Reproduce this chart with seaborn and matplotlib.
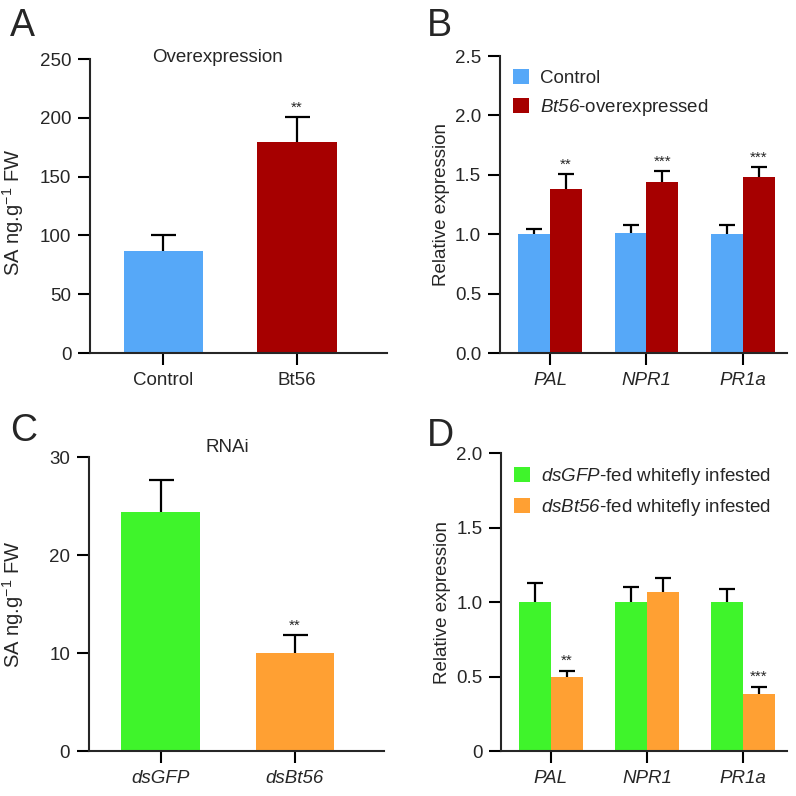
import pandas as pd
import matplotlib
matplotlib.use("Agg")
import matplotlib.pyplot as plt
import seaborn as sns

# A: SA content, overexpression
oe_groups = ["Control", "Bt56"]
oe_sa = [87.0, 179.5]
oe_sa_err = [13.0, 21.0]
oe_sig = ["", "**"]

# B: marker genes, overexpression
genes = ["PAL", "NPR1", "PR1a"]
b_ctrl = [1.00, 1.01, 1.00]
b_ctrl_err = [0.045, 0.065, 0.08]
b_oe = [1.38, 1.44, 1.48]
b_oe_err = [0.125, 0.09, 0.085]
b_sig_ctrl = ["", "", ""]
b_sig_oe = ["**", "***", "***"]

# C: SA content, RNAi
rnai_groups = ["dsGFP", "dsBt56"]
rnai_sa = [24.4, 10.0]
rnai_sa_err = [3.3, 1.8]
rnai_sig = ["", "**"]

# D: marker genes, RNAi
d_gfp = [1.00, 1.00, 1.00]
d_gfp_err = [0.13, 0.10, 0.09]
d_bt = [0.50, 1.065, 0.38]
d_bt_err = [0.04, 0.095, 0.05]
d_sig_gfp = ["", "", ""]
d_sig_bt = ["**", "", "***"]

# mathrm is mapped to the italic face below, so digits come out italic too
b_labels = ["Control", r"$\mathrm{Bt56}$-overexpressed"]
d_labels = [r"$\mathrm{dsGFP}$-fed whitefly infested", r"$\mathrm{dsBt56}$-fed whitefly infested"]
sa_label = r"SA ng.g$^{\mathsf{-1}}$ FW"

blue, red = "#56A8F8", "#A60000"
green, orange = "#3FF42B", "#FFA033"

FS = 13.5

sns.set_theme(style="ticks")
plt.rcParams['font.family'] = ['Liberation Sans', 'DejaVu Sans']
plt.rcParams['mathtext.fontset'] = 'custom'
plt.rcParams['mathtext.rm'] = 'Liberation Sans:italic'
plt.rcParams['mathtext.it'] = 'Liberation Sans:italic'
plt.rcParams['mathtext.sf'] = 'Liberation Sans'
plt.rcParams['axes.linewidth'] = 1.5

fig = plt.figure(figsize=(7.96, 7.96), dpi=100)
axA = fig.add_axes([0.1131, 0.5565, 0.3731, 0.3693])
axB = fig.add_axes([0.6281, 0.5565, 0.3606, 0.3731])
axC = fig.add_axes([0.1118, 0.0565, 0.3706, 0.3693])
axD = fig.add_axes([0.6294, 0.0565, 0.3593, 0.3744])


def style_axis(ax, ymax, step, ticklabels):
    ax.set_ylim(0, ymax)
    ticks = [i * step for i in range(int(round(ymax / step)) + 1)]
    ax.set_yticks(ticks)
    ax.set_yticklabels(ticklabels)
    sns.despine(ax=ax)
    ax.tick_params(axis='both', length=8.5, width=1.5, labelsize=FS, pad=5, color='black')
    ax.set_xlabel("")


def add_errors(ax, errs, sigs, capw, starsize=11):
    # upper-only error bars with a cap at the top end
    for cont, err, sig in zip(ax.containers, errs, sigs):
        for p, e, s in zip(cont.patches, err, sig):
            x = p.get_x() + p.get_width() / 2
            h = p.get_height()
            ax.errorbar(x, h, yerr=[[0], [e]], color='black', capsize=0,
                        elinewidth=1.6, zorder=3)
            ax.plot([x], [h + e], marker='_', markersize=capw, mew=1.6,
                    color='black', zorder=3)
            if s:
                ax.annotate(s, (x, h + e), xytext=(0, 2), textcoords='offset points',
                            ha='center', va='bottom', fontsize=starsize)


# ---- A
dfA = pd.DataFrame({'group': oe_groups, 'sa': oe_sa})
sns.barplot(data=dfA, x='group', y='sa', hue='group', palette=[blue, red],
            width=0.59, linewidth=0, saturation=1, legend=False, ax=axA)
axA.set_xlim(-0.545, 1.672)
style_axis(axA, 250, 50, ["0", "50", "100", "150", "200", "250"])
add_errors(axA, [[e] for e in oe_sa_err], [[s] for s in oe_sig], capw=18)
axA.set_ylabel(sa_label, fontsize=14.5)
axA.yaxis.set_label_coords(-0.215, 0.48)
axA.text(0.43, 1.007, "Overexpression", transform=axA.transAxes, ha='center',
         va='center', fontsize=FS)

# ---- B
dfB = pd.DataFrame({'gene': genes * 2, 'expr': b_ctrl + b_oe,
                    'cond': [b_labels[0]] * 3 + [b_labels[1]] * 3})
sns.barplot(data=dfB, x='gene', y='expr', hue='cond', hue_order=b_labels,
            palette=[blue, red], width=0.66, linewidth=0, saturation=1,
            legend=False, ax=axB)
axB.set_xlim(-0.518, 2.456)
style_axis(axB, 2.5, 0.5, ["0.0", "0.5", "1.0", "1.5", "2.0", "2.5"])
add_errors(axB, [b_ctrl_err, b_oe_err], [b_sig_ctrl, b_sig_oe], capw=12)
axB.set_ylabel("Relative expression", fontsize=FS)
axB.yaxis.set_label_coords(-0.175, 0.5)
for t in axB.get_xticklabels():
    t.set_fontstyle('italic')
axB.legend(axB.containers, b_labels, loc='upper left', bbox_to_anchor=(0.0, 1.0),
           frameon=False, fontsize=FS, handlelength=0.85, handleheight=0.85,
           handletextpad=0.6, labelspacing=0.55, borderaxespad=0.3)

# ---- C
dfC = pd.DataFrame({'group': rnai_groups, 'sa': rnai_sa})
sns.barplot(data=dfC, x='group', y='sa', hue='group', palette=[green, orange],
            width=0.587, linewidth=0, saturation=1, legend=False, ax=axC)
axC.set_xlim(-0.532, 1.662)
style_axis(axC, 30, 10, ["0", "10", "20", "30"])
add_errors(axC, [[e] for e in rnai_sa_err], [[s] for s in rnai_sig], capw=18)
axC.set_ylabel(sa_label, fontsize=14.5)
axC.yaxis.set_label_coords(-0.215, 0.5)
for t in axC.get_xticklabels():
    t.set_fontstyle('italic')
axC.text(0.468, 1.034, "RNAi", transform=axC.transAxes, ha='center',
         va='center', fontsize=FS)

# ---- D
dfD = pd.DataFrame({'gene': genes * 2, 'expr': d_gfp + d_bt,
                    'cond': [d_labels[0]] * 3 + [d_labels[1]] * 3})
sns.barplot(data=dfD, x='gene', y='expr', hue='cond', hue_order=d_labels,
            palette=[green, orange], width=0.66, linewidth=0, saturation=1,
            legend=False, ax=axD)
axD.set_xlim(-0.518, 2.456)
style_axis(axD, 2.0, 0.5, ["0", "0.5", "1.0", "1.5", "2.0"])
add_errors(axD, [d_gfp_err, d_bt_err], [d_sig_gfp, d_sig_bt], capw=12)
axD.set_ylabel("Relative expression", fontsize=FS)
axD.yaxis.set_label_coords(-0.175, 0.5)
for t in axD.get_xticklabels():
    t.set_fontstyle('italic')
axD.legend(axD.containers, d_labels, loc='upper left', bbox_to_anchor=(0.0, 1.0),
           frameon=False, fontsize=FS, handlelength=0.85, handleheight=0.85,
           handletextpad=0.6, labelspacing=0.55, borderaxespad=0.3)

# panel letters
for lab, x, y in [("A", 10, 8), ("B", 427, 8), ("C", 10, 413), ("D", 427, 418)]:
    fig.text(x / 796, 1 - y / 796, lab, fontsize=27, family='Liberation Sans',
             ha='left', va='top')

fig.savefig("out.png", dpi=100)
